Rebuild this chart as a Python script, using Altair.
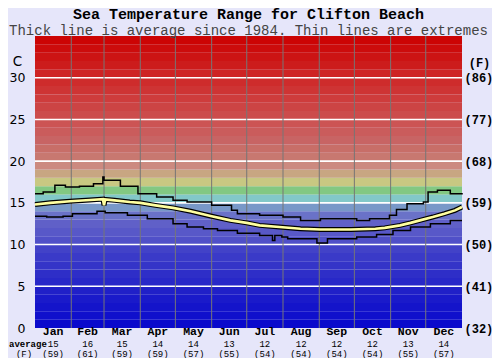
import altair as alt
import pandas as pd

# ---------------- data ----------------
month_names = ["Jan", "Feb", "Mar", "Apr", "May", "Jun",
               "Jul", "Aug", "Sep", "Oct", "Nov", "Dec"]
month_avg_c = ["15", "16", "15", "14", "14", "13", "12", "12", "12", "12", "13", "14"]
month_avg_f = ["(59)", "(61)", "(59)", "(59)", "(57)", "(55)",
               "(54)", "(54)", "(54)", "(54)", "(55)", "(57)"]
month_starts = [0, 31, 59, 90, 120, 151, 181, 212, 243, 273, 304, 334, 365]

# upper extreme (step line)
max_days = [0, 7, 17, 26, 38, 50, 58, 59, 73, 88, 104, 118, 130, 151, 168, 173,
            192, 212, 227, 244, 275, 286, 303, 309, 318, 332, 336, 344, 355, 365]
max_vals = [16.1, 16.3, 17.1, 16.9, 17.0, 17.3, 18.1, 17.7, 17.0, 16.1, 15.7, 15.3,
            15.1, 14.7, 14.1, 13.7, 13.5, 13.3, 12.9, 13.1, 12.9, 13.1, 13.5, 14.2,
            14.9, 15.1, 16.3, 16.5, 16.1, 16.0]

# lower extreme (step line)
min_days = [0, 10, 24, 32, 53, 60, 79, 96, 118, 130, 144, 156, 173, 192, 203, 205,
            211, 216, 241, 250, 275, 292, 306, 321, 338, 355, 365]
min_vals = [13.4, 13.3, 13.4, 13.7, 14.0, 13.8, 13.5, 13.1, 12.5, 12.1, 11.9, 11.7,
            11.35, 11.1, 10.5, 11.1, 10.9, 10.7, 10.2, 10.7, 10.9, 11.2, 11.7, 12.1,
            12.5, 12.9, 12.9]

# average
avg_days = [0, 13, 30, 47, 58, 59, 60, 68, 81, 90, 103, 118, 133, 151, 167, 181,
            192, 209, 227, 244, 270, 291, 299, 312, 321, 329, 340, 350, 359, 365]
avg_vals = [14.8, 15.0, 15.2, 15.35, 15.45, 14.7, 15.4, 15.3, 15.1, 15.0, 14.7, 14.4,
            14.0, 13.4, 12.9, 12.6, 12.3, 12.1, 11.9, 11.8, 11.8, 11.9, 12.0, 12.3,
            12.6, 12.9, 13.3, 13.7, 14.1, 14.5]

# background colour bands, one per degree from 0 up to 35
band_colors = [
    "#0A0ACC", "#1010CC", "#1414CA", "#1A1ACA", "#2020C8",
    "#2828C8", "#2E2EC8", "#3434C8", "#3A3AC8", "#4242C8",
    "#5050C8", "#5858C8", "#6060C8", "#6A72C8", "#7898C8",
    "#82C8C8", "#82C882", "#C8C882", "#C8A682", "#CC8A80",
    "#C87870", "#C86E68", "#C86464", "#CA5C5C", "#CC5454",
    "#CC4C4C", "#CC4444", "#CE3C3C", "#CE3434", "#CE2C2C",
    "#CE2424", "#CC1C1C", "#CC1414", "#CC0C0C", "#CC0404",
]
grid_values = [5, 10, 15, 20, 25, 30]
tick_values = [0, 5, 10, 15, 20, 25, 30]

W, H = 427, 292
MONO = "Liberation Mono"

# ---------------- tables ----------------
bands = pd.DataFrame({
    "lo": list(range(len(band_colors))),
    "hi": [i + 1 for i in range(len(band_colors))],
    "color": band_colors,
})
grid = pd.DataFrame({"v": grid_values})
dividers = pd.DataFrame({"d": month_starts[1:-1]})
months = pd.DataFrame({
    "mid": [(a + b) / 2 for a, b in zip(month_starts[:-1], month_starts[1:])],
    "name": month_names,
    "c": month_avg_c,
    "f": month_avg_f,
})
mx = pd.DataFrame({"d": max_days, "v": max_vals})
mn = pd.DataFrame({"d": min_days, "v": min_vals})
av = pd.DataFrame({"d": avg_days, "v": avg_vals})

xs = alt.Scale(domain=[0, 365], nice=False, zero=False)
ys = alt.Scale(domain=[0, 35], nice=False, zero=True)

left_axis = alt.Axis(
    values=tick_values, grid=False, ticks=False, domain=False,
    labelFont="DejaVu Sans", labelFontSize=12.5, labelColor="#000",
    labelPadding=10,
    title="C", titleAngle=0, titleFont="DejaVu Sans", titleFontSize=13.5,
    titleFontWeight="normal", titleColor="#000",
    titleX=-18, titleY=25, titleAlign="center", titleBaseline="middle",
)
right_axis = alt.Axis(
    orient="right", values=tick_values, grid=False, ticks=False, domain=False,
    labelExpr="'(' + round(datum.value * 9 / 5 + 32) + ')'",
    labelFont=MONO, labelFontSize=12, labelFontWeight="bold", labelColor="#000",
    labelPadding=2, labelAlign="left",
    title="(F)", titleAngle=0, titleFont=MONO, titleFontSize=12,
    titleFontWeight="bold", titleColor="#000",
    titleX=17, titleY=26, titleAlign="center", titleBaseline="middle",
)

band_layer = alt.Chart(bands).mark_rect().encode(
    x=alt.value(0), x2=alt.value(W),
    y=alt.Y("lo:Q", scale=ys, axis=left_axis), y2="hi:Q",
    color=alt.Color("color:N", scale=None),
)
grid_layer = alt.Chart(grid).mark_rule(color="white", strokeWidth=1.6).encode(
    x=alt.value(0), x2=alt.value(W),
    y=alt.Y("v:Q", scale=ys, axis=right_axis),
)
div_layer = alt.Chart(dividers).mark_rule(color="#767676", strokeWidth=1).encode(
    x=alt.X("d:Q", scale=xs, axis=None),
    y=alt.value(0), y2=alt.value(H),
)
max_layer = alt.Chart(mx).mark_line(color="black", strokeWidth=1.5,
                                    interpolate="step-after").encode(
    x=alt.X("d:Q", scale=xs, axis=None),
    y=alt.Y("v:Q", scale=ys, axis=None),
)
min_layer = alt.Chart(mn).mark_line(color="black", strokeWidth=1.5,
                                    interpolate="step-after").encode(
    x=alt.X("d:Q", scale=xs, axis=None),
    y=alt.Y("v:Q", scale=ys, axis=None),
)
avg_outline = alt.Chart(av).mark_line(color="black", strokeWidth=5).encode(
    x=alt.X("d:Q", scale=xs, axis=None),
    y=alt.Y("v:Q", scale=ys, axis=None),
)
avg_core = alt.Chart(av).mark_line(color="#FFFFA0", strokeWidth=2.6).encode(
    x=alt.X("d:Q", scale=xs, axis=None),
    y=alt.Y("v:Q", scale=ys, axis=None),
)

mname = alt.Chart(months).mark_text(font=MONO, fontSize=11.5, fontWeight="bold",
                                    color="#000", baseline="middle").encode(
    x=alt.X("mid:Q", scale=xs, axis=None), y=alt.value(H + 4), text="name:N",
)
mc = alt.Chart(months).mark_text(font=MONO, fontSize=9, color="#000",
                                 baseline="middle").encode(
    x=alt.X("mid:Q", scale=xs, axis=None), y=alt.value(H + 15.5), text="c:N",
)
mf = alt.Chart(months).mark_text(font=MONO, fontSize=9, color="#000",
                                 baseline="middle").encode(
    x=alt.X("mid:Q", scale=xs, axis=None), y=alt.value(H + 25.5), text="f:N",
)
avg_lbl = alt.Chart(pd.DataFrame({"t": ["average"]})).mark_text(
    font=MONO, fontSize=9, fontWeight="bold", color="#000",
    align="left", baseline="middle").encode(
    x=alt.value(-26), y=alt.value(H + 15.5), text="t:N",
)
f_lbl = alt.Chart(pd.DataFrame({"t": ["(F)"]})).mark_text(
    font=MONO, fontSize=9, color="#000", align="center", baseline="middle").encode(
    x=alt.value(-11), y=alt.value(H + 25.5), text="t:N",
)

chart = alt.layer(
    band_layer, grid_layer, div_layer, max_layer, min_layer,
    avg_outline, avg_core, mname, mc, mf, avg_lbl, f_lbl,
).resolve_axis(y="independent").properties(
    width=W, height=H,
    autosize=alt.AutoSizeParams(type="none"),
    padding={"left": 27, "top": 28, "right": 30, "bottom": 30},
    background="#E6E6FA",
    title=alt.TitleParams(
        text="Sea Temperature Range for Clifton Beach",
        subtitle="Thick line is average since 1984. Thin lines are extremes",
        font=MONO, fontSize=15, fontWeight="bold", color="#000",
        subtitleFont=MONO, subtitleFontSize=14, subtitleColor="#444",
        subtitlePadding=2.5, anchor="middle", offset=-2.5,
    ),
).configure_view(stroke=None)

chart.save("out.html", embed_options={"renderer": "svg", "actions": False})
